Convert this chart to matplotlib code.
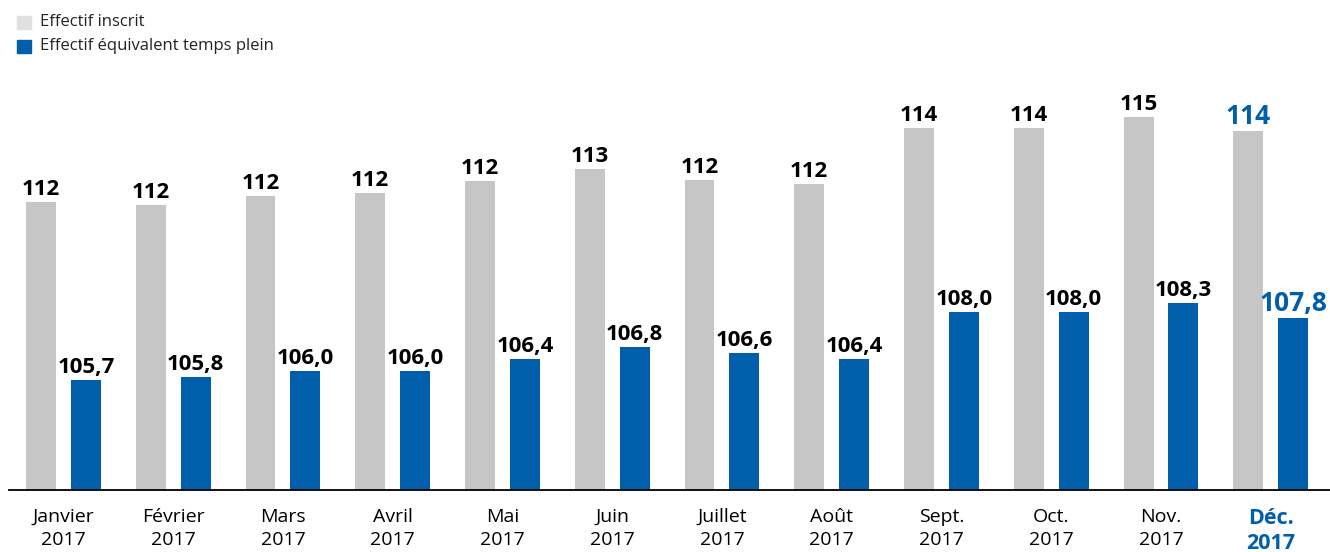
import numpy as np
import matplotlib.pyplot as plt
from matplotlib.patches import Rectangle

plt.rcParams['font.family'] = ['Open Sans', 'DejaVu Sans']

# données
mois = ['Janvier\n2017', 'Février\n2017', 'Mars\n2017', 'Avril\n2017', 'Mai\n2017', 'Juin\n2017',
        'Juillet\n2017', 'Août\n2017', 'Sept.\n2017', 'Oct.\n2017', 'Nov.\n2017', 'Déc.\n2017']
effectif_inscrit = [111.7, 111.6, 111.9, 112.0, 112.4, 112.8, 112.45, 112.3, 114.2, 114.2, 114.57, 114.1]
effectif_etp = [105.7, 105.8, 106.0, 106.0, 106.4, 106.8, 106.6, 106.4, 108.0, 108.0, 108.3, 107.8]

gris = '#c6c6c6'
gris_legende = '#e0e0e0'
bleu = '#005eaa'

fig = plt.figure(figsize=(13.3, 5.52), dpi=100)
ax = fig.add_axes([9 / 1330, 1 - 489.5 / 552, 1321 / 1330, 430 / 552])

x = np.arange(len(mois))
w = 0.273
off = 0.2045

ax.bar(x - off, np.array(effectif_inscrit) - 102, w, bottom=102, color=gris, zorder=2)
ax.bar(x + off, np.array(effectif_etp) - 102, w, bottom=102, color=bleu, zorder=2)

ax.set_xlim(-0.496, 11.54)
ax.set_ylim(102, 102 + 430 / 29.65)

# étiquettes
for i in range(len(mois)):
    dernier = i == len(mois) - 1
    c = bleu if dernier else 'black'
    fs = 19 if dernier else 16
    ax.annotate(f'{effectif_inscrit[i]:.0f}', (x[i] - off, effectif_inscrit[i]), xytext=(0, 5),
                textcoords='offset points', ha='center', va='baseline', fontsize=fs,
                fontweight='bold', color=c)
    ax.annotate(f'{effectif_etp[i]:.1f}'.replace('.', ','), (x[i] + off, effectif_etp[i]), xytext=(0, 5),
                textcoords='offset points', ha='center', va='baseline', fontsize=fs,
                fontweight='bold', color=c)

ax.set_xticks(x)
ax.set_xticklabels(mois, fontsize=14, linespacing=1.4)
ax.tick_params(axis='x', length=0, pad=13)
ax.get_xticklabels()[-1].set_color(bleu)
ax.get_xticklabels()[-1].set_fontweight('bold')
ax.get_xticklabels()[-1].set_fontsize(15.5)
ax.get_xticklabels()[-1].set_linespacing(1.25)
ax.set_yticks([])
for s in ['top', 'right', 'left']:
    ax.spines[s].set_visible(False)
ax.spines['bottom'].set_linewidth(1.3)
ax.spines['bottom'].set_zorder(3)

# légende
for k, (lab, col) in enumerate([('Effectif inscrit', gris_legende), ('Effectif équivalent temps plein', bleu)]):
    yc = 22 + k * 24.5
    fig.patches.append(Rectangle((17 / 1330, 1 - (yc + 6.5) / 552), 14 / 1330, 13 / 552,
                                 transform=fig.transFigure, color=col))
    fig.text(40 / 1330, 1 - yc / 552, lab, fontsize=12, va='center', ha='left', color='#222222')

fig.savefig('out.png', dpi=100)
